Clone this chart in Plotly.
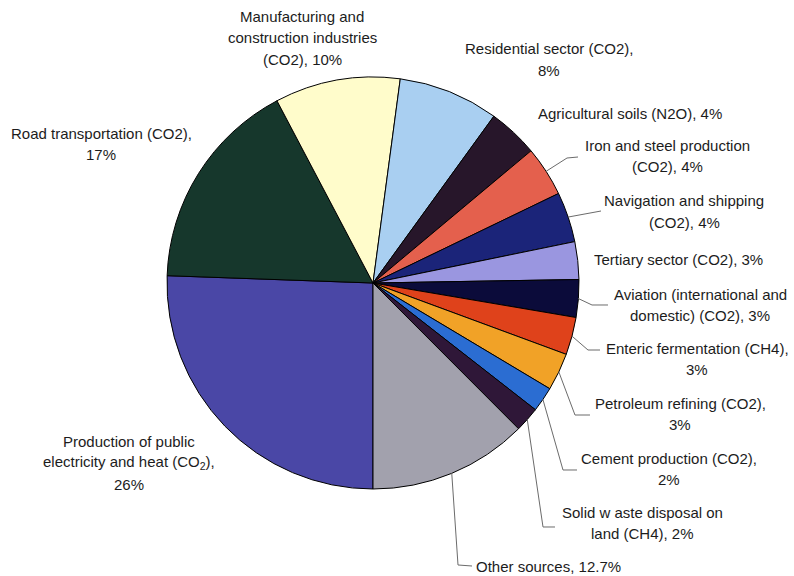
import math
import plotly.graph_objects as go

W, H = 794, 576

# Emission sources, in drawing order (clockwise from 6 o'clock)
sources = [
    "Production of public electricity and heat (CO2)",
    "Road transportation (CO2)",
    "Manufacturing and construction industries (CO2)",
    "Residential sector (CO2)",
    "Agricultural soils (N2O)",
    "Iron and steel production (CO2)",
    "Navigation and shipping (CO2)",
    "Tertiary sector (CO2)",
    "Aviation (international and domestic) (CO2)",
    "Enteric fermentation (CH4)",
    "Petroleum refining (CO2)",
    "Cement production (CO2)",
    "Solid waste disposal on land (CH4)",
    "Other sources",
]
shares = [26, 17, 10, 8, 4, 4, 4, 3, 3, 3, 3, 2, 2, 12.7]

# Label text, line by line; {v} is replaced by the share
label_lines = [
    ["Production of public", "electricity and heat (CO<sub>2</sub>),", "{v}%"],
    ["Road transportation (CO2),", "{v}%"],
    ["Manufacturing and", "construction industries", "(CO2), {v}%"],
    ["Residential sector (CO2),", "{v}%"],
    ["Agricultural soils (N2O), {v}%"],
    ["Iron and steel production", "(CO2), {v}%"],
    ["Navigation and shipping", "(CO2), {v}%"],
    ["Tertiary sector (CO2), {v}%"],
    ["Aviation (international and", "domestic) (CO2), {v}%"],
    ["Enteric fermentation (CH4),", "{v}%"],
    ["Petroleum refining (CO2),", "{v}%"],
    ["Cement production (CO2),", "{v}%"],
    ["Solid w aste disposal on", "land (CH4), {v}%"],
    ["Other sources, {v}%"],
]

colors = [
    "#4a47a6", "#16372c", "#fffccb", "#a9cff1", "#27162a", "#e4604d",
    "#1b2479", "#9a96e0", "#0b0b3a", "#df421b", "#f1a227", "#2b6dd2",
    "#2f1738", "#a2a1ad",
]

# Pie geometry (pixels)
CX, CY, R = 373, 283, 206

# Label placement: (centre x, first-line y, anchor) in pixels
label_pos = [
    (129, 441, "center"), (101, 133, "center"), (302, 16, "center"),
    (549, 49, "center"), (630, 114, "center"), (667, 145, "center"),
    (684, 201, "center"), (678, 259, "center"), (700, 294, "center"),
    (697, 348, "center"), (680, 403, "center"), (669, 458, "center"),
    (642, 512, "center"), (474, 566, "left"),
]
LINE_GAP = 21.5

# Leader lines: elbow and end points in pixels (None = no leader)
leaders = [
    None, None, None, None, None,
    [(567, 158), (578, 157)],
    [(601, 211)],
    None,
    [(592, 305), (608, 305)],
    [(588, 350), (600, 350)],
    [(575, 415), (590, 415)],
    [(563, 470), (577, 470)],
    [(543, 527), (555, 527)],
    [(458, 565), (472, 566)],
]


def px(x):
    return x / W


def py(y):
    return 1 - y / H


fig = go.Figure(
    go.Pie(
        labels=sources,
        values=shares,
        sort=False,
        direction="clockwise",
        rotation=180,
        marker=dict(colors=colors, line=dict(color="#000000", width=1)),
        textinfo="none",
        hoverinfo="label+percent",
        showlegend=False,
        domain=dict(x=[px(CX - R), px(CX + R)], y=[py(CY + R), py(CY - R)]),
    )
)

annotations = []
for lines, share, (lx, ly, anchor) in zip(label_lines, shares, label_pos):
    for i, line in enumerate(lines):
        annotations.append(
            dict(
                x=px(lx), y=py(ly + i * LINE_GAP), xref="paper", yref="paper",
                text=line.format(v=f"{share:g}"), showarrow=False,
                xanchor=anchor, yanchor="middle", align=anchor,
                font=dict(family="Liberation Sans, Arial, sans-serif", size=15, color="#1c1c1c"),
            )
        )

# Leader lines start at the middle of each slice's outer arc
shapes = []
total = sum(shares)
cum = 0.0
for share, leg in zip(shares, leaders):
    mid = math.radians(180 + (cum + share / 2) / total * 360)
    cum += share
    if leg is None:
        continue
    pts = [(CX + R * math.sin(mid), CY - R * math.cos(mid))] + leg
    path = "M " + " L ".join(f"{px(x):.5f},{py(y):.5f}" for x, y in pts)
    shapes.append(dict(type="path", path=path, xref="paper", yref="paper",
                       line=dict(color="#6b6b6b", width=1)))

fig.update_layout(
    width=W, height=H,
    margin=dict(l=0, r=0, t=0, b=0),
    paper_bgcolor="white", plot_bgcolor="white",
    annotations=annotations, shapes=shapes,
)

fig.write_html("out.html")
